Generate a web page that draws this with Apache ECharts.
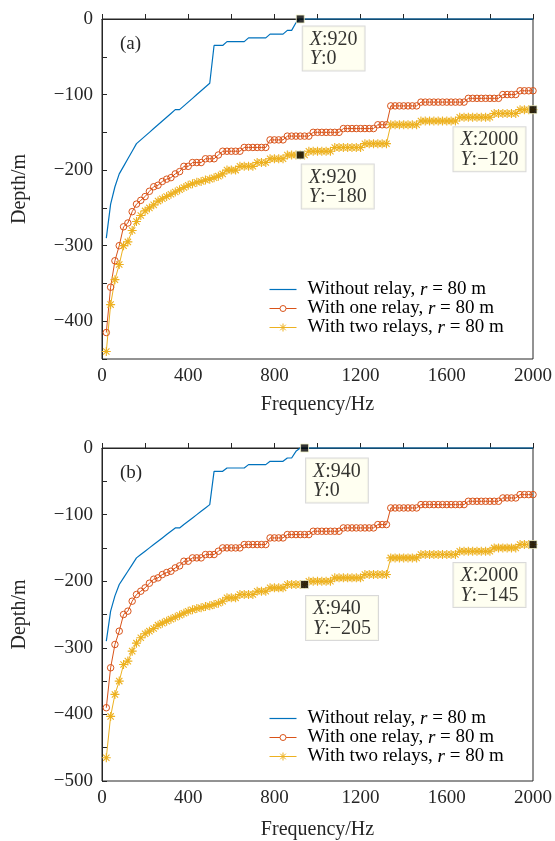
<!DOCTYPE html>
<html>
<head>
<meta charset="utf-8">
<title>Depth vs frequency</title>
<script src="https://cdn.jsdelivr.net/npm/echarts@6/dist/echarts.min.js"></script>
<style>
  html, body { margin: 0; padding: 0; background: #fff; }
  #main { width: 555px; height: 841px; }
</style>
</head>
<body>
<div id="main"></div>
<script>
// sample frequencies (Hz), one point every 20 Hz
var freq = [20,40,60,80,100,120,140,160,180,200,220,240,260,280,300,320,340,360,380,400,
  420,440,460,480,500,520,540,560,580,600,620,640,660,680,700,720,740,760,780,800,
  820,840,860,880,900,920,940,960,980,1000,1020,1040,1060,1080,1100,1120,1140,1160,1180,1200,
  1220,1240,1260,1280,1300,1320,1340,1360,1380,1400,1420,1440,1460,1480,1500,1520,1540,1560,1580,1600,
  1620,1640,1660,1680,1700,1720,1740,1760,1780,1800,1820,1840,1860,1880,1900,1920,1940,1960,1980,2000];

// (a) depths in m
var noRelayA = [-290,-245,-222,-205,-195,-185,-175,-165,-160,-155,-150,-145,-140,-135,-130,-125,-120,-120,-115,-110,
  -105,-100,-95,-90,-85,-35,-35,-35,-30,-30,-30,-30,-30,-25,-25,-25,-25,-25,-20,-20,
  -20,-20,-15,-15,-5,0,0,0,0,0,0,0,0,0,0,0,0,0,0,0,
  0,0,0,0,0,0,0,0,0,0,0,0,0,0,0,0,0,0,0,0,
  0,0,0,0,0,0,0,0,0,0,0,0,0,0,0,0,0,0,0,0];
var oneRelayA = [-415,-355,-320,-300,-275,-270,-255,-245,-240,-235,-228,-222,-220,-215,-212,-210,-205,-202,-195,-195,
  -190,-190,-190,-185,-185,-185,-180,-175,-175,-175,-175,-175,-170,-170,-170,-170,-170,-170,-160,-160,
  -160,-160,-155,-155,-155,-155,-155,-155,-150,-150,-150,-150,-150,-150,-150,-145,-145,-145,-145,-145,
  -145,-145,-145,-140,-140,-140,-115,-115,-115,-115,-115,-115,-115,-110,-110,-110,-110,-110,-110,-110,
  -110,-110,-110,-110,-105,-105,-105,-105,-105,-105,-105,-105,-100,-100,-100,-100,-95,-95,-95,-95];
var twoRelayA = [-440,-378,-345,-325,-300,-295,-280,-268,-260,-254,-250,-246,-241,-238,-235,-232,-229,-226,-223,-220,
  -218,-216,-215,-213,-212,-210,-208,-205,-200,-200,-200,-195,-195,-195,-195,-190,-190,-190,-185,-185,
  -185,-185,-180,-180,-180,-180,-180,-175,-175,-175,-175,-175,-175,-170,-170,-170,-170,-170,-170,-170,
  -165,-165,-165,-165,-165,-165,-140,-140,-140,-140,-140,-140,-140,-135,-135,-135,-135,-135,-135,-135,
  -135,-135,-130,-130,-130,-130,-130,-130,-130,-130,-125,-125,-125,-125,-125,-125,-120,-120,-120,-120];

// (b) depths in m
var noRelayB = [-290,-245,-222,-205,-195,-185,-175,-165,-160,-155,-150,-145,-140,-135,-130,-125,-120,-120,-115,-110,
  -105,-100,-95,-90,-85,-35,-35,-35,-30,-30,-30,-30,-30,-25,-25,-25,-25,-25,-20,-20,
  -20,-20,-15,-15,-5,0,0,0,0,0,0,0,0,0,0,0,0,0,0,0,
  0,0,0,0,0,0,0,0,0,0,0,0,0,0,0,0,0,0,0,0,
  0,0,0,0,0,0,0,0,0,0,0,0,0,0,0,0,0,0,0,0];
var oneRelayB = [-390,-330,-295,-275,-250,-245,-230,-220,-215,-210,-203,-197,-195,-190,-187,-185,-180,-177,-170,-170,
  -165,-165,-165,-160,-160,-160,-155,-150,-150,-150,-150,-150,-145,-145,-145,-145,-145,-145,-135,-135,
  -135,-135,-130,-130,-130,-130,-130,-130,-125,-125,-125,-125,-125,-125,-125,-120,-120,-120,-120,-120,
  -120,-120,-120,-115,-115,-115,-90,-90,-90,-90,-90,-90,-90,-85,-85,-85,-85,-85,-85,-85,
  -85,-85,-85,-85,-80,-80,-80,-80,-80,-80,-80,-80,-75,-75,-75,-75,-70,-70,-70,-70];
var twoRelayB = [-465,-403,-370,-350,-325,-320,-305,-293,-285,-279,-275,-271,-266,-263,-260,-257,-254,-251,-248,-245,
  -243,-241,-240,-238,-237,-235,-233,-230,-225,-225,-225,-220,-220,-220,-220,-215,-215,-215,-210,-210,
  -210,-210,-205,-205,-205,-205,-205,-200,-200,-200,-200,-200,-200,-195,-195,-195,-195,-195,-195,-195,
  -190,-190,-190,-190,-190,-190,-165,-165,-165,-165,-165,-165,-165,-160,-160,-160,-160,-160,-160,-160,
  -160,-160,-155,-155,-155,-155,-155,-155,-155,-155,-150,-150,-150,-150,-150,-150,-145,-145,-145,-145];

// data tips [x, y]
var tipsA = [[920, 0], [920, -180], [2000, -120]];
var tipsB = [[940, 0], [940, -205], [2000, -145]];

var xTicks = [0, 400, 800, 1200, 1600, 2000];

var serif = 'Liberation Serif';
var ink = '#262626';
var blue = '#0072BD', orange = '#D95319', yellow = '#EDB120';
var star = 'path://M0,-10L0,10M-10,0L10,0M-7,-7L7,7M-7,7L7,-7';

// legend icons, drawn in a 27x10 box
var iconLine = 'path://M0,0M27,10M0,5L27,5';
var iconCircle = 'path://M0,0M27,10M0,5L10.5,5M16.5,5L27,5M16.5,5A3,3,0,1,1,10.5,5A3,3,0,1,1,16.5,5';
var iconStar = 'path://M0,0M27,10M0,5L27,5M13.5,1L13.5,9M9.5,5L17.5,5M10.7,2.2L16.3,7.8M10.7,7.8L16.3,2.2';

function pairs(vals) {
  return freq.map(function (f, i) { return [f, vals[i]]; });
}

function minus(v) {
  return v < 0 ? '\u2212' + (-v) : String(v);
}

function tipSeries(ix, tips, offsets) {
  return {
    type: 'scatter', xAxisIndex: ix, yAxisIndex: ix, z: 10, clip: false,
    symbol: 'rect', symbolSize: 8,
    itemStyle: { color: '#000', borderColor: '#f3f3c8', borderWidth: 1 },
    label: {
      show: true,
      fontFamily: serif, fontSize: 20, lineHeight: 19.5, color: '#000',
      backgroundColor: '#ffffee', borderColor: '#cfcfcf', borderWidth: 1,
      padding: [3, 7, 2, 7],
      formatter: function (p) {
        return '{i|X}:' + p.value[0] + '\n{i|Y}:' + minus(p.value[1]);
      },
      rich: { i: { fontStyle: 'italic', fontFamily: serif, fontSize: 20, lineHeight: 19.5 } }
    },
    data: tips.map(function (t, k) {
      return { value: t, label: { position: offsets[k] } };
    })
  };
}

function curveSeries(ix, a, b, c) {
  return [
    { name: 'Without relay', type: 'line', xAxisIndex: ix, yAxisIndex: ix, clip: false,
      symbol: 'none', data: pairs(a),
      itemStyle: { color: blue }, lineStyle: { color: blue, width: 1.2 } },
    { name: 'With one relay', type: 'line', xAxisIndex: ix, yAxisIndex: ix, clip: false,
      symbol: 'circle', symbolSize: 6.5, data: pairs(b),
      itemStyle: { color: 'rgba(0,0,0,0)', borderColor: orange, borderWidth: 1 },
      lineStyle: { color: orange, width: 1 } },
    { name: 'With two relays', type: 'line', xAxisIndex: ix, yAxisIndex: ix, clip: false,
      symbol: star, symbolSize: 9, data: pairs(c),
      itemStyle: { color: yellow, borderColor: yellow, borderWidth: 1.1 },
      lineStyle: { color: yellow, width: 1 } }
  ];
}

function xAxis(ix, gap) {
  return {
    type: 'value', gridIndex: ix, min: 0, max: 2000, interval: 200,
    name: 'Frequency/Hz', nameLocation: 'middle', nameGap: gap,
    nameTextStyle: { fontFamily: serif, fontSize: 20, color: ink },
    axisLine: { lineStyle: { color: ink, width: 1 } },
    axisTick: { inside: true, length: 5, lineStyle: { color: ink } },
    splitLine: { show: false },
    axisLabel: {
      fontFamily: serif, fontSize: 19, color: ink, margin: 8,
      formatter: function (v) { return xTicks.indexOf(v) >= 0 ? String(v) : ''; }
    }
  };
}

function yAxis(ix, min) {
  return {
    type: 'value', gridIndex: ix, min: min, max: 0, interval: 50,
    name: 'Depth/m', nameLocation: 'middle', nameGap: 72,
    nameTextStyle: { fontFamily: serif, fontSize: 20, color: ink },
    axisLine: { lineStyle: { color: ink, width: 1 } },
    axisTick: { inside: true, length: 5, lineStyle: { color: ink } },
    splitLine: { show: false },
    axisLabel: {
      fontFamily: serif, fontSize: 19, color: ink, margin: 9,
      formatter: function (v) { return v % 100 === 0 ? minus(v) : ''; }
    }
  };
}

function legendItem(name, icon, color, width) {
  return {
    name: name, icon: icon,
    itemStyle: { color: 'none', borderColor: color, borderWidth: width, opacity: 1 }
  };
}

function legend(top) {
  return {
    orient: 'vertical', left: 267, top: top, padding: 0,
    itemWidth: 27, itemHeight: 10, itemGap: 0, symbolKeepAspect: false,
    data: [
      legendItem('Without relay', iconLine, blue, 1.2),
      legendItem('With one relay', iconCircle, orange, 1),
      legendItem('With two relays', iconStar, yellow, 1)
    ],
    formatter: function (name) { return name + ', {i|r} = 80 m'; },
    textStyle: {
      fontFamily: serif, fontSize: 19, lineHeight: 18.5, color: '#000', padding: [0, 0, 0, 6],
      rich: { i: { fontStyle: 'italic', fontFamily: serif, fontSize: 19 } }
    }
  };
}

var chart = echarts.init(document.getElementById('main'));

chart.setOption({
  animation: false,
  backgroundColor: '#fff',
  title: [
    { text: '(a)', left: 115, top: 30, textStyle: { fontFamily: serif, fontSize: 19, fontWeight: 'normal', color: ink } },
    { text: '(b)', left: 115, top: 459, textStyle: { fontFamily: serif, fontSize: 19, fontWeight: 'normal', color: ink } }
  ],
  grid: [
    { left: 102, right: 22, top: 19, height: 340, show: true, borderColor: ink, borderWidth: 1 },
    { left: 102, right: 22, top: 448, height: 341, show: true, borderColor: ink, borderWidth: 1 }
  ],
  legend: [legend(280), legend(709)],
  xAxis: [xAxis(0, 36), xAxis(1, 39)],
  yAxis: [yAxis(0, -450), yAxis(1, -500)],
  series: [].concat(
    curveSeries(0, noRelayA, oneRelayA, twoRelayA),
    curveSeries(1, noRelayB, oneRelayB, twoRelayB),
    [tipSeries(0, tipsA, [[7, 12], [6, 14], [-75, 22]]),
     tipSeries(1, tipsB, [[6, 15], [6, 16], [-75, 23]])]
  )
});
</script>
</body>
</html>
